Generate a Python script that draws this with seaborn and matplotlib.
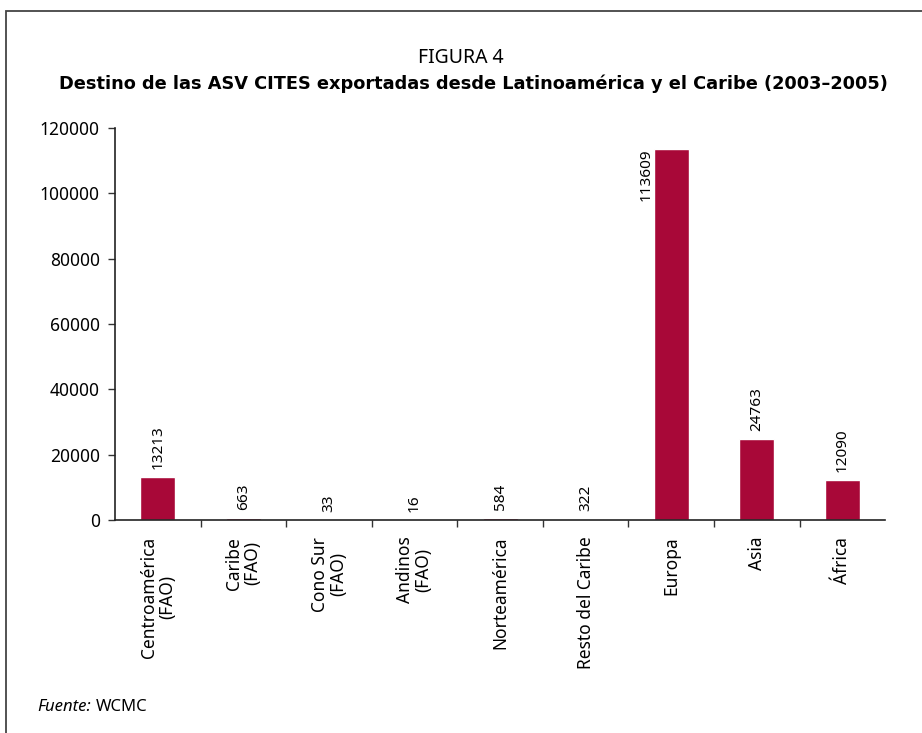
import pandas as pd
import matplotlib.pyplot as plt
import seaborn as sns
from matplotlib.patches import Rectangle

# Data
categories = ["Centroamérica\n(FAO)", "Caribe\n(FAO)", "Cono Sur\n(FAO)", "Andinos\n(FAO)",
              "Norteamérica", "Resto del Caribe", "Europa", "Asia", "África"]
exports = [13213, 663, 33, 16, 584, 322, 113609, 24763, 12090]

df = pd.DataFrame({"Destino": categories, "ASV": exports})

sns.set_style("white")
plt.rcParams["font.family"] = ["Noto Sans", "DejaVu Sans"]
plt.rcParams["text.color"] = "black"
plt.rcParams["xtick.color"] = "black"
plt.rcParams["ytick.color"] = "black"

fig = plt.figure(figsize=(9.22, 7.33), dpi=100)
ax = fig.add_axes([0.1247, 0.2906, 0.8353, 0.5348])

sns.barplot(data=df, x="Destino", y="ASV", color="#A80838", width=0.41,
            saturation=1, ax=ax)

ax.set_ylim(0, 120000)
ax.set_xlim(-0.5, len(categories) - 0.5)
ax.set_yticks(range(0, 120001, 20000))
ax.tick_params(axis="y", labelsize=12.5, length=5, width=1, color="#333333",
               labelcolor="black", direction="out", left=True, pad=6)
ax.set_xticks(range(len(categories)))
ax.set_xticklabels(categories, rotation=90, fontsize=12.5, linespacing=1.0)
ax.tick_params(axis="x", which="major", length=0, pad=12, labelcolor="black")
ax.set_xticks([i + 0.5 for i in range(len(categories) - 1)], minor=True)
ax.tick_params(axis="x", which="minor", length=5, width=1, color="#333333",
               direction="out", bottom=True)
ax.set_xlabel("")
ax.set_ylabel("")
for side in ["top", "right"]:
    ax.spines[side].set_visible(False)
for side in ["left", "bottom"]:
    ax.spines[side].set_color("#222222")
    ax.spines[side].set_linewidth(1.2)

# Value annotations
for i, val in enumerate(exports):
    if val > 110000:
        ax.text(i - 0.29, val, str(val), rotation=90, ha="center", va="top", fontsize=11)
    else:
        ax.text(i, val + 2500, str(val), rotation=90, ha="center", va="bottom", fontsize=11)

# Titles
fig.text(0.5, 1 - 63 / 733, "FIGURA 4", ha="center", va="baseline", fontsize=14)
fig.text(473 / 922, 1 - 89 / 733,
         "Destino de las ASV CITES exportadas desde Latinoamérica y el Caribe (2003–2005)",
         ha="center", va="baseline", fontsize=12.8, fontweight="bold", family="DejaVu Sans")

# Source note
t = fig.text(37 / 922, 1 - 711 / 733, "Fuente:", ha="left", va="baseline",
             fontsize=12, style="italic")
fig.canvas.draw()
bb = t.get_window_extent()
fig.text((bb.x1 + 5) / 922, 1 - 711 / 733, "WCMC", ha="left", va="baseline", fontsize=12)

# Frame around the figure (only left and top edges visible)
fig.patches.append(Rectangle((6 / 922, -0.1), 1.2, 1 - 11 / 733 + 0.1, transform=fig.transFigure,
                             fill=False, edgecolor="#444444", linewidth=1.3))

plt.savefig("out.png", dpi=100)
